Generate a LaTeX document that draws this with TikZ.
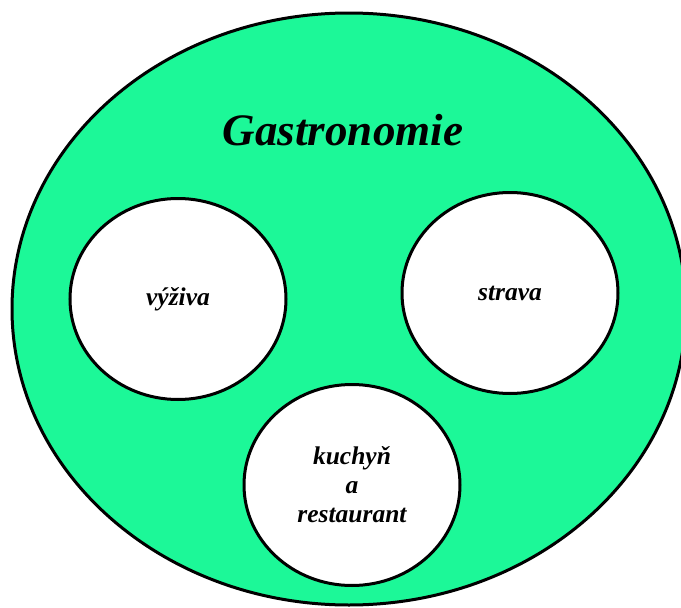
\documentclass[tikz,border=0pt]{standalone}
\usepackage{fontspec}
\setmainfont{Liberation Serif}
\usetikzlibrary{shapes.geometric}
\definecolor{gastrogreen}{RGB}{28,248,152}
\tikzset{
  outer/.style={ellipse, draw=black, line width=3pt, fill=gastrogreen, inner sep=0pt},
  inner/.style={ellipse, draw=black, line width=3pt, fill=white, inner sep=0pt,
    minimum width=216pt, minimum height=201pt, align=center,
    font=\fontsize{25.5}{29}\selectfont\bfseries\itshape},
  title/.style={font=\fontsize{45}{50}\selectfont\bfseries\itshape, inner sep=0pt}
}
\begin{document}
\begin{tikzpicture}[x=1pt,y=-1pt]
\useasboundingbox (0,0) rectangle (681,608);
\clip (0,0) rectangle (681,608);
\node[outer, minimum width=674pt, minimum height=592pt] (gastro) at (349,309) {};
\node[title, anchor=base] (title) at (343,145) {Gastronomie};
\node[inner] (vyziva) at (178,299) {výživa};
\node[inner] (strava) at (510,293) {strava};
\node[inner] (kuchyn) at (352,485) {kuchyň\\a\\restaurant};
\end{tikzpicture}
\end{document}
